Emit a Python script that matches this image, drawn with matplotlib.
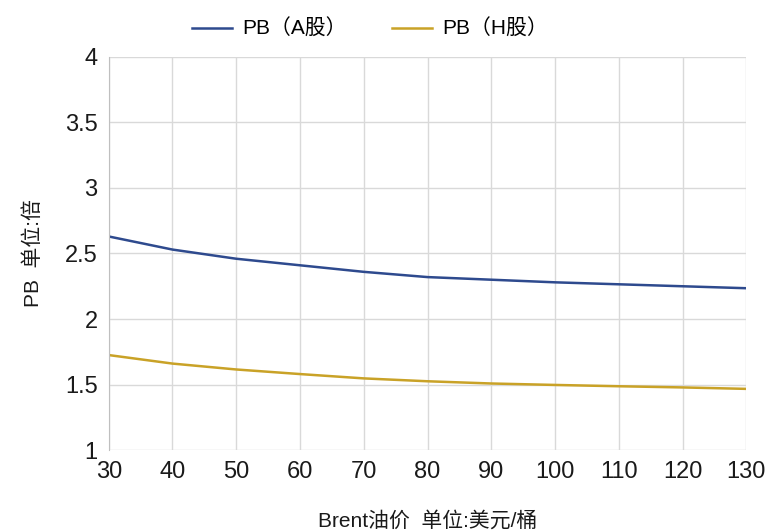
import numpy as np
import matplotlib.pyplot as plt

plt.rcParams['font.family'] = ['Liberation Sans', 'Noto Sans CJK SC', 'DejaVu Sans']

oil_price = [30, 40, 50, 60, 70, 80, 90, 100, 110, 120, 130]
pb_a = [2.63, 2.53, 2.46, 2.41, 2.36, 2.32, 2.30, 2.28, 2.265, 2.25, 2.235]
pb_h = [1.725, 1.66, 1.615, 1.58, 1.547, 1.525, 1.508, 1.497, 1.487, 1.478, 1.467]

fig = plt.figure(figsize=(7.71, 5.32), dpi=100)
ax = fig.add_axes([0.141, 0.154, 0.827, 0.739])

ax.plot(oil_price, pb_a, color='#2E4A8E', lw=1.8, label='PB（A股）')
ax.plot(oil_price, pb_h, color='#C9A227', lw=1.8, label='PB（H股）')

ax.set_xlim(30, 130)
ax.set_ylim(1, 4)
ax.set_xticks(np.arange(30, 131, 10))
ax.set_yticks([1, 1.5, 2, 2.5, 3, 3.5, 4])
ax.set_yticklabels(['1', '1.5', '2', '2.5', '3', '3.5', '4'])
ax.grid(True, color='#D9D9D9', lw=1)
ax.set_axisbelow(True)
for s in ['top', 'right', 'bottom']:
    ax.spines[s].set_visible(False)
ax.spines['left'].set_color('#BFBFBF')
ax.tick_params(length=0, labelsize=17, colors='#1a1a1a', pad=8)

ax.set_xlabel('Brent油价  单位:美元/桶', fontsize=15, color='#1a1a1a', labelpad=20)
ax.set_ylabel('PB  单位:倍', fontsize=15, color='#1a1a1a', labelpad=16)

fig.legend(loc='upper center', bbox_to_anchor=(0.48, 1.0), ncol=2, frameon=False,
           fontsize=15, handlelength=1.9, columnspacing=2.2, handletextpad=0.5)

fig.savefig('out.png', dpi=100)
